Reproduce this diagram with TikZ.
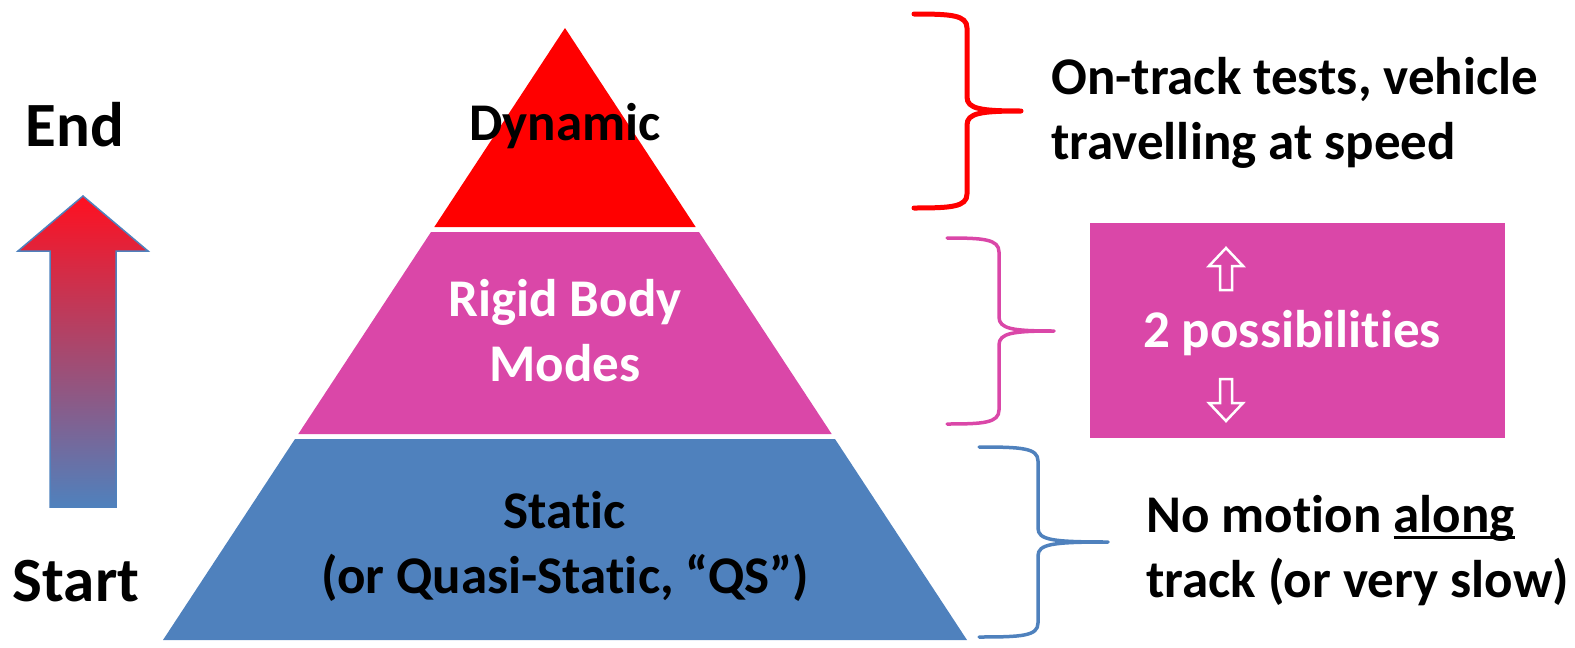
\documentclass[tikz,border=0pt]{standalone}
\usepackage{fontspec}
\setmainfont{Carlito}[Ligatures=NoCommon]
\usetikzlibrary{positioning}

\definecolor{dynred}{RGB}{255,0,0}
\definecolor{rigidpink}{RGB}{218,71,168}
\definecolor{staticblue}{RGB}{79,129,189}
\definecolor{arrowtop}{RGB}{255,16,32}
\definecolor{arrowmid}{RGB}{200,92,140}

% curly brace: colour, width, end x, spine x, top y, bottom y, tip x
\newcommand{\tierbrace}[7]{%
  \pgfmathsetmacro{\bmid}{(#5+#6)/2}
  \draw[#1, line width=#2, line cap=round, line join=round]
    (#3,#5) .. controls (#4-16,#5) and (#4,#5+1) .. (#4,#5+14)
    -- (#4,\bmid-14) .. controls (#4,\bmid-2) and (#4+14,\bmid) .. (#7,\bmid)
    .. controls (#4+14,\bmid) and (#4,\bmid+2) .. (#4,\bmid+14)
    -- (#4,#6-14) .. controls (#4,#6-1) and (#4-16,#6) .. (#3,#6);
}

% heavier underline than \underline gives
\newlength{\ulwidth}
\newcommand{\heavyul}[1]{\settowidth{\ulwidth}{#1}\rlap{\rule[-6pt]{\ulwidth}{2.6pt}}#1}

\tikzset{
  big text/.style={font=\fontsize{53}{65}\selectfont\bfseries, inner sep=0pt},
  side text/.style={font=\fontsize{63}{70}\selectfont\bfseries, inner sep=0pt},
  hollow arrow/.pic={
    \draw[white, line width=2.5pt, line join=miter]
      (0,-21) -- (17,-3) -- (6,-3) -- (6,21) -- (-6,21) -- (-6,-3) -- (-17,-3) -- cycle;
  }
}

\begin{document}
\begin{tikzpicture}[x=1pt,y=-1pt]
\useasboundingbox (0,0) rectangle (1575,648);

% the three tiers of the pyramid
\fill[dynred] (565,28) -- (695.7,227) -- (434.3,227) -- cycle;
\fill[rigidpink] (431,232) -- (699,232) -- (831.7,434) -- (298.3,434) -- cycle;
\fill[staticblue] (295,439) -- (835,439) -- (967,640) -- (163,640) -- cycle;

\node[big text] (dyn) at (565,126) {Dynamic};
\node[big text, white, align=center] (rigid) at (565,331) {Rigid Body\\Modes};
\node[big text, align=center] (static) at (565,546) {Static\\(or Quasi-Static, “QS”)};

% progress arrow on the left
\path[top color=arrowtop, middle color=arrowmid, bottom color=staticblue, draw=staticblue, line width=1.5pt]
  (83,196) -- (148,251) -- (116,251) -- (116,507) -- (50,507) -- (50,251) -- (18,251) -- cycle;
\node[side text] (end) at (75,125) {End};
\node[side text] (start) at (76,581) {Start};

% braces and notes on the right
\tierbrace{dynred}{5pt}{914}{967}{14}{208}{1021}
\tierbrace{rigidpink}{3.5pt}{947}{999}{238}{424}{1054}
\tierbrace{staticblue}{3.5pt}{979}{1038}{447}{637}{1108}

\node[big text, anchor=west, align=left] (ontrack) at (1051,113) {On-track tests, vehicle\\travelling at speed};

\node[fill=rigidpink, anchor=north west, minimum width=415pt, minimum height=215pt, inner sep=0pt] (choice) at (1090,223) {};
\node[big text, white] (poss) at (1292,333) {2 possibilities};
\pic at (1226,269) {hollow arrow};
\pic[rotate=180] at (1226,400) {hollow arrow};

\node[big text, anchor=west, align=left] (nomotion) at (1146,551) {No motion \heavyul{along}\\track (or very slow)};
\end{tikzpicture}
\end{document}
